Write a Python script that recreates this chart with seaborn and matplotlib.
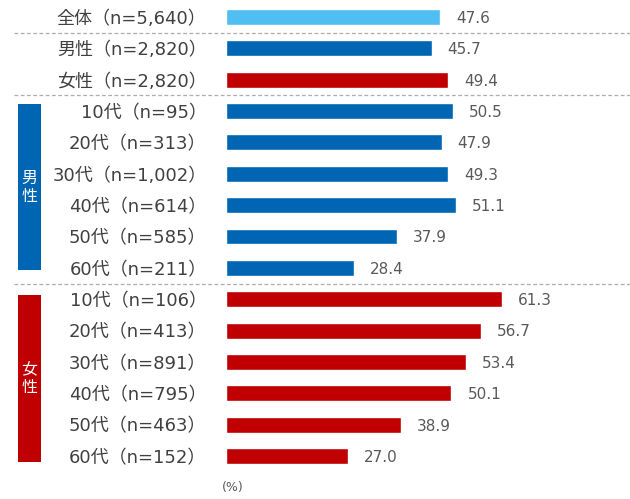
import matplotlib
matplotlib.use("Agg")
import matplotlib.pyplot as plt
import seaborn as sns
import pandas as pd
from matplotlib.patches import Rectangle

sns.set_theme(style="white")
plt.rcParams['font.family'] = ['DejaVu Sans', 'Noto Sans CJK JP']

labels = ["全体（n=5,640）", "男性（n=2,820）", "女性（n=2,820）",
          "10代（n=95）", "20代（n=313）", "30代（n=1,002）", "40代（n=614）",
          "50代（n=585）", "60代（n=211）",
          "10代（n=106）", "20代（n=413）", "30代（n=891）", "40代（n=795）",
          "50代（n=463）", "60代（n=152）"]
values = [47.6, 45.7, 49.4,
          50.5, 47.9, 49.3, 51.1, 37.9, 28.4,
          61.3, 56.7, 53.4, 50.1, 38.9, 27.0]
groups = ["all", "male", "female"] + ["male"] * 6 + ["female"] * 6

LIGHT = "#4FBEF2"
BLUE = "#0066B3"
RED = "#C00000"
palette = {"all": LIGHT, "male": BLUE, "female": RED}

df = pd.DataFrame({"label": labels, "value": values, "group": groups})

fig = plt.figure(figsize=(6.30, 4.99), dpi=100)
W, H = 630, 499
ax_left, ax_right = 226, 630
ax_top, ax_bot = 1.3, 471.7
ax = fig.add_axes([ax_left / W, 1 - ax_bot / H, (ax_right - ax_left) / W, (ax_bot - ax_top) / H])

sns.barplot(data=df, x="value", y="label", hue="group", palette=palette,
            dodge=False, width=0.51, legend=False, ax=ax, orient="h", saturation=1)

ax.set_xlim(0, (ax_right - ax_left) / 4.5)
ax.set_ylim(14.5, -0.5)
ax.set_xlabel("")
ax.set_ylabel("")
ax.set_xticks([])
for s in ax.spines.values():
    s.set_visible(False)
ax.tick_params(axis="y", length=0, pad=14, labelsize=13, labelcolor="#404040")

for i, v in enumerate(values):
    ax.annotate(f"{v:.1f}", (v, i), xytext=(11.5, -1), textcoords="offset points",
                ha="left", va="center", fontsize=11, color="#595959")

# dashed separators
for yy in [0.5, 2.5, 8.5]:
    ax.plot([(14 - ax_left) / (ax_right - ax_left), 1], [yy, yy],
            transform=ax.get_yaxis_transform(), color="#ADADAD",
            linestyle=(0, (3, 2)), linewidth=0.9, clip_on=False)

# side boxes
bx0 = (18 - ax_left) / (ax_right - ax_left)
bw = 23 / (ax_right - ax_left)
for (y0, y1, col, txt) in [(2.78, 8.08, BLUE, "男\n性"), (8.86, 14.19, RED, "女\n性")]:
    ax.add_patch(Rectangle((bx0, y0), bw, y1 - y0, transform=ax.get_yaxis_transform(),
                           facecolor=col, edgecolor="none", clip_on=False))
    ax.text(bx0 + bw / 2, (y0 + y1) / 2, txt, transform=ax.get_yaxis_transform(),
            ha="center", va="center", color="white", fontsize=11.5,
            family=["Noto Sans CJK JP"], linespacing=1.1)

fig.text(233 / W, 1 - 488 / H, "(%)", ha="center", va="center", fontsize=9, color="#595959")

fig.savefig("out.png", dpi=100)
